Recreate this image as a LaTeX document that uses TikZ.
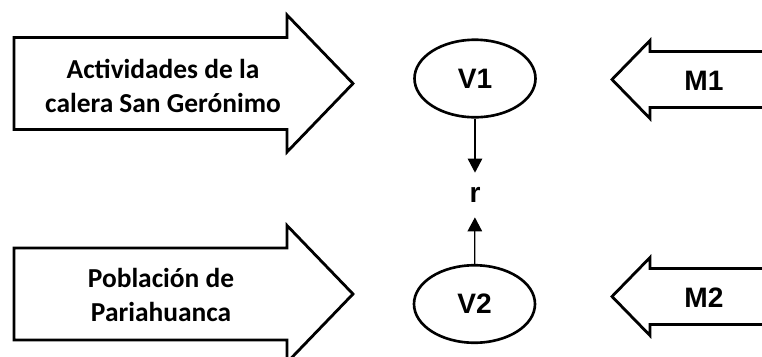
\documentclass[tikz,border=0pt]{standalone}
\usepackage{fontspec}
\setmainfont{Liberation Sans}
\newfontfamily\calibri{Carlito}
\usetikzlibrary{arrows.meta, positioning, shapes.geometric}

\begin{document}
\begin{tikzpicture}[
    bigarrow/.style={draw, line width=1.6pt, line join=miter},
    var/.style={draw, ellipse, line width=1.5pt, minimum width=2.42cm,
                minimum height=1.55cm, inner sep=0pt,
                font=\fontsize{16}{19}\selectfont\bfseries},
    lbl/.style={font=\fontsize{16}{19}\selectfont\bfseries, inner sep=0pt},
    txt/.style={font=\calibri\fontsize{15.6}{19.4}\selectfont\bfseries, align=center},
    link/.style={-{Triangle[width=2.9mm,length=2.8mm]}, line width=0.7pt},
  ]
    \useasboundingbox (0,0) rectangle (15.24,-7.12);
    \clip (0,0) rectangle (15.24,-7.12);

    % left block arrows
    \draw[bigarrow] (0.28,-0.75) -- (5.74,-0.75) -- (5.74,-0.30) -- (7.06,-1.67)
        -- (5.74,-3.04) -- (5.74,-2.59) -- (0.28,-2.59) -- cycle;
    \draw[bigarrow] (0.28,-4.96) -- (5.74,-4.96) -- (5.74,-4.51) -- (7.06,-5.88)
        -- (5.74,-7.25) -- (5.74,-6.80) -- (0.28,-6.80) -- cycle;
    \node[txt] (act) at (3.26,-1.72) {Actividades de la\\calera San Gerónimo};
    \node[txt] (pob) at (3.22,-5.90) {Población de\\Pariahuanca};

    % right block arrows
    \draw[bigarrow] (15.8,-1.03) -- (13.0,-1.03) -- (13.0,-0.81) -- (12.24,-1.59)
        -- (13.0,-2.37) -- (13.0,-2.15) -- (15.8,-2.15);
    \draw[bigarrow] (15.8,-5.37) -- (13.0,-5.37) -- (13.0,-5.15) -- (12.24,-5.93)
        -- (13.0,-6.71) -- (13.0,-6.49) -- (15.8,-6.49);
    \node[lbl] (m1) at (14.08,-1.62) {M1};
    \node[lbl] (m2) at (14.08,-5.96) {M2};

    % variables and relation
    \node[var] (v1) at (9.50,-1.57) {V1};
    \node[var] (v2) at (9.49,-6.08) {V2};
    \node[lbl, minimum height=0.88cm] (r) at (9.50,-3.90) {r};

    % edges
    \draw[link] (v1) -- (r);
    \draw[link] (v2) -- (r);
\end{tikzpicture}
\end{document}
